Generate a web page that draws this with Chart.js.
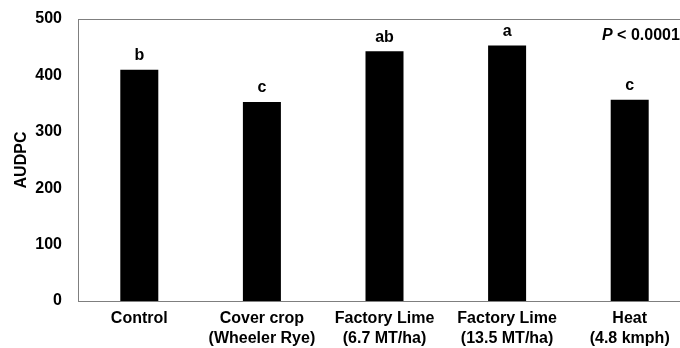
<!DOCTYPE html>
<html>
<head>
<meta charset="utf-8">
<script src="https://cdn.jsdelivr.net/npm/chart.js@4/dist/chart.umd.min.js"></script>
<style>
html,body{margin:0;padding:0;background:#fff;overflow:hidden;width:680px;height:348px;}
#wrap{position:relative;width:692px;height:348px;}
</style>
</head>
<body>
<div id="wrap"><canvas id="c" width="692" height="348"></canvas></div>
<script>
const categories = [["Control"], ["Cover crop", "(Wheeler Rye)"], ["Factory Lime", "(6.7 MT/ha)"], ["Factory Lime", "(13.5 MT/ha)"], ["Heat", "(4.8 kmph)"]];
const audpc = [410, 353, 443, 453, 357];
const letters = ["b", "c", "ab", "a", "c"];
const yTicks = [0, 100, 200, 300, 400, 500];
const pText = ["P", " < 0.0001"];

const FONT = "'Liberation Sans', Arial, sans-serif";

const annot = {
  id: 'annot',
  afterDatasetsDraw(chart) {
    const ctx = chart.ctx;
    const meta = chart.getDatasetMeta(0);
    ctx.save();
    ctx.fillStyle = '#000';
    ctx.font = "bold 16px " + FONT;
    ctx.textAlign = 'center';
    ctx.textBaseline = 'middle';
    meta.data.forEach((bar, i) => {
      ctx.fillText(letters[i], bar.x, bar.y - 14);
    });
    // P value
    const ca = chart.chartArea;
    ctx.textAlign = 'left';
    let x = ca.left + 524;
    const y = ca.top + 17;
    ctx.font = "italic bold 16px " + FONT;
    ctx.fillText(pText[0], x, y);
    x += ctx.measureText(pText[0]).width;
    ctx.font = "bold 16px " + FONT;
    ctx.fillText(pText[1], x, y);
    // frame
    ctx.strokeStyle = '#7f7f7f';
    ctx.lineWidth = 1;
    ctx.strokeRect(Math.round(ca.left) + 0.5, Math.round(ca.top) + 0.5, Math.round(ca.right - ca.left), Math.round(ca.bottom - ca.top));
    ctx.restore();
  }
};

new Chart(document.getElementById('c'), {
  type: 'bar',
  data: {
    labels: categories,
    datasets: [{
      data: audpc,
      backgroundColor: '#000',
      borderWidth: 0,
      barPercentage: 0.31,
      categoryPercentage: 1.0
    }]
  },
  options: {
    responsive: false,
    animation: false,
    layout: { padding: { top: 19, right: 1, left: 0, bottom: 0 } },
    plugins: { legend: { display: false }, tooltip: { enabled: false } },
    scales: {
      x: {
        grid: { display: false, drawTicks: false },
        border: { display: false },
        ticks: {
          color: '#000',
          font: { family: FONT, size: 16, weight: 'bold', lineHeight: 1.25 },
          padding: 8,
          maxRotation: 0,
          autoSkip: false
        },
        afterFit(s) { s.height = 47; s.paddingLeft = 0; s.paddingRight = 0; }
      },
      y: {
        min: 0, max: 500,
        grid: { display: false, drawTicks: false },
        border: { display: false },
        afterBuildTicks(s) { s.ticks = yTicks.map(v => ({ value: v })); },
        ticks: {
          color: '#000',
          font: { family: FONT, size: 16, weight: 'bold' },
          padding: 16
        },
        title: {
          display: true,
          text: 'AUDPC',
          color: '#000',
          font: { family: FONT, size: 16, weight: 'bold' },
          padding: { top: 12, bottom: 0 }
        },
        afterFit(s) { s.width = 78; s.paddingTop = 0; s.paddingBottom = 0; }
      }
    }
  },
  plugins: [annot]
});
</script>
</body>
</html>
